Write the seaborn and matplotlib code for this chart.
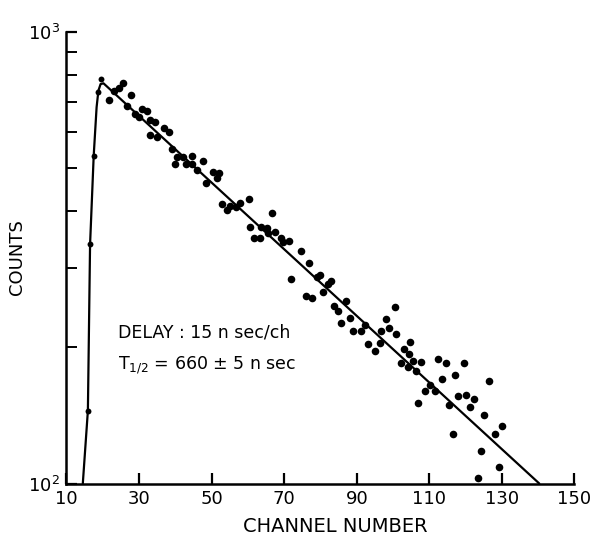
import matplotlib
matplotlib.use("Agg")
import numpy as np
import pandas as pd
import matplotlib.pyplot as plt
import seaborn as sns

# rising edge of the time spectrum
rise_ch = [15.9, 16.5, 17.5, 18.8, 19.4]
rise_counts = [145, 338, 531, 734, 784]

# decay part (channel, counts)
decay_ch = [21.7, 23.0, 24.5, 25.7, 26.7, 27.8, 28.8, 30.1, 30.9, 32.1,
            33.1, 33.1, 34.3, 35.0, 36.8, 38.3, 39.0, 39.8, 40.4, 42.0,
            43.0, 44.7, 44.6, 45.9, 47.5, 48.5, 50.3, 51.9, 51.6, 52.8,
            54.2, 55.2, 56.7, 57.9, 60.2, 60.6, 61.8, 63.3, 63.7, 65.3,
            65.6, 66.7, 67.6, 69.0, 69.6, 71.3, 71.8, 74.6, 76.1, 76.8,
            77.8, 79.0, 79.8, 80.8, 82.0, 82.9, 83.8, 84.9, 85.7, 87.1,
            88.2, 88.9, 91.3, 92.3, 93.2, 95.1, 96.4, 96.8, 98.0, 98.8,
            100.4, 100.8, 102.2, 102.9, 104.2, 104.5, 104.7, 105.4, 106.3, 107.0,
            107.7, 108.8, 110.2, 111.6, 112.3, 113.6, 114.6, 115.5, 116.6, 117.2,
            118.0, 119.5, 120.2, 121.3, 122.2, 123.3, 124.2, 125.2, 126.4, 128.1,
            129.3, 130.0]
decay_counts = [706, 737, 749, 769, 683, 722, 656, 647, 675, 666,
                636, 591, 631, 583, 612, 600, 549, 508, 527, 528,
                508, 531, 510, 494, 518, 462, 490, 486, 475, 415,
                403, 411, 410, 418, 426, 370, 349, 349, 369, 368,
                359, 397, 360, 349, 343, 344, 283, 327, 260, 307,
                257, 287, 290, 265, 276, 281, 247, 241, 226, 253,
                232, 217, 217, 224, 204, 196, 205, 217, 231, 221,
                246, 214, 185, 198, 181, 193, 206, 187, 177, 151,
                186, 160, 165, 160, 189, 170, 185, 149, 129, 174,
                156, 185, 157, 148, 154, 103, 118, 142, 169, 129,
                109, 134]

# drawn curve through the data
fit_ch = [14.5, 15.9, 16.5, 17.5, 18.3, 18.8, 19.4, 20.2, 140.3]
fit_counts = [100, 145, 338, 531, 680, 740, 765, 768, 100]

x_ticks = [10, 30, 50, 70, 90, 110, 130, 150]

sns.set_theme(style="ticks")
plt.rcParams['font.family'] = ['DejaVu Sans']
plt.rcParams['text.color'] = 'black'
plt.rcParams['axes.labelcolor'] = 'black'

fig = plt.figure(figsize=(5.92, 5.45), dpi=100)
ax = fig.add_axes([0.1123, 0.1128, 0.8581, 0.8294])

sns.lineplot(x=fit_ch, y=fit_counts, ax=ax, color="black", linewidth=1.6,
             sort=False, estimator=None)
sns.scatterplot(x=rise_ch, y=rise_counts, ax=ax, color="black", s=18,
                edgecolor="black", linewidth=0)
sns.scatterplot(x=decay_ch, y=decay_counts, ax=ax, color="black", s=30,
                edgecolor="black", linewidth=0)

ax.set_yscale("log")
ax.set_xlim(10, 150)
ax.set_ylim(100, 1000)
ax.set_xticks(x_ticks)
ax.set_xticklabels([str(t) for t in x_ticks])
ax.minorticks_off()
ax.yaxis.set_minor_locator(matplotlib.ticker.LogLocator(base=10, subs=np.arange(2, 10)))
ax.yaxis.set_minor_formatter(matplotlib.ticker.NullFormatter())

for s in ["top", "right"]:
    ax.spines[s].set_visible(False)
for s in ["left", "bottom"]:
    ax.spines[s].set_linewidth(1.8)
    ax.spines[s].set_color("black")

ax.tick_params(axis="both", which="major", direction="in", length=8, width=1.6,
               labelsize=13, colors="black", pad=5)
ax.tick_params(axis="y", which="minor", direction="in", length=8, width=1.4,
               colors="black")

ax.set_xlabel("CHANNEL NUMBER", fontsize=14, labelpad=6, x=0.53)
ax.set_ylabel("COUNTS", fontsize=13, labelpad=1)

ax.text(0.102, 0.335, "DELAY : 15 n sec/ch", transform=ax.transAxes,
        fontsize=12.5, ha="left", va="center")
ax.text(0.102, 0.262, r"T$_{1/2}$ = 660 $\pm$ 5 n sec", transform=ax.transAxes,
        fontsize=12.5, ha="left", va="center")

fig.savefig("out.png", dpi=100, facecolor="white")
